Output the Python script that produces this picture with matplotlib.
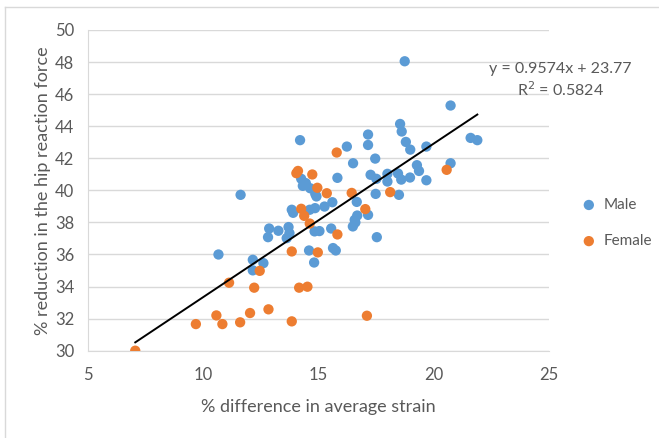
import matplotlib
matplotlib.use("Agg")
import matplotlib.pyplot as plt
from matplotlib.lines import Line2D

plt.rcParams['font.family'] = ['Lato', 'DejaVu Sans']

# values
male_x = [18.74, 20.73, 18.54, 18.61, 17.15, 14.20, 21.60, 21.89, 18.79, 17.15,
          16.23, 18.98, 19.68, 17.46, 16.50, 20.73, 19.27, 19.36, 17.26, 17.51,
          17.99, 18.45, 17.99, 18.59, 18.97, 19.68, 15.82, 14.25, 14.32, 14.64,
          11.62, 14.86, 18.49, 17.48, 14.91, 15.60, 15.26, 16.66, 13.84, 14.85,
          14.62, 17.15, 16.68, 16.57, 16.49, 12.86, 13.26, 13.70, 13.74, 12.81,
          13.62, 15.55, 14.83, 15.04, 17.53, 14.59, 15.63, 15.75, 10.66, 14.81,
          12.15, 12.61, 12.15, 14.45, 13.90, 16.60]
male_y = [48.05, 45.29, 44.14, 43.67, 43.48, 43.13, 43.27, 43.13, 43.02, 42.83,
          42.73, 42.54, 42.73, 41.98, 41.69, 41.69, 41.57, 41.21, 40.97, 40.72,
          41.03, 41.05, 40.55, 40.67, 40.80, 40.63, 40.78, 40.72, 40.28, 40.13,
          39.72, 39.78, 39.72, 39.78, 39.62, 39.26, 38.99, 39.28, 38.79, 38.89,
          38.79, 38.47, 38.43, 38.16, 37.75, 37.62, 37.48, 37.71, 37.33, 37.08,
          37.02, 37.62, 37.44, 37.46, 37.08, 36.25, 36.40, 36.25, 36.00, 35.50,
          35.67, 35.46, 35.01, 40.45, 38.60, 38.00]

female_x = [7.05, 9.68, 10.57, 10.83, 11.60, 12.03, 12.83, 13.84, 17.10, 11.12,
            12.21, 12.45, 14.16, 14.52, 13.84, 14.97, 15.82, 14.62, 14.38, 14.25,
            17.03, 15.36, 16.44, 18.11, 14.95, 14.04, 14.11, 14.73, 15.79, 20.56]
female_y = [30.00, 31.66, 32.20, 31.66, 31.77, 32.35, 32.58, 31.83, 32.18, 34.24,
            33.93, 34.98, 33.93, 33.99, 36.19, 36.13, 37.25, 37.93, 38.41, 38.85,
            38.83, 39.82, 39.84, 39.89, 40.16, 41.07, 41.21, 40.99, 42.36, 41.28]

slope = 0.9574
intercept = 23.77
r_squared = 0.5824

x_ticks = [5, 10, 15, 20, 25]
y_ticks = [30, 32, 34, 36, 38, 40, 42, 44, 46, 48, 50]

BLUE = '#5B9BD5'
ORANGE = '#ED7D31'
GREY_TXT = '#595959'

fig = plt.figure(figsize=(6.59, 4.38), dpi=100)
ax = fig.add_axes([88/659, 1-350.7/438, (549-88)/659, (350.7-30)/438])

ax.scatter(male_x, male_y, s=55, color=BLUE, edgecolors='none', label='Male', zorder=3)
ax.scatter(female_x, female_y, s=55, color=ORANGE, edgecolors='none', label='Female', zorder=3)

all_x = male_x + female_x
x0, x1 = min(all_x), max(all_x)
ax.plot([x0, x1], [slope*x0 + intercept, slope*x1 + intercept], color='black', lw=1.4, zorder=4)

ax.set_xlim(5, 25)
ax.set_ylim(30, 50)
ax.set_xticks(x_ticks)
ax.set_yticks(y_ticks)
ax.tick_params(length=0, labelsize=12, colors=GREY_TXT)
ax.tick_params(axis='x', pad=12)
ax.tick_params(axis='y', pad=10)
ax.grid(axis='y', color='#D9D9D9', lw=1)
ax.set_axisbelow(True)
for s in ['top', 'right']:
    ax.spines[s].set_visible(False)
for s in ['left', 'bottom']:
    ax.spines[s].set_color('#D9D9D9')

ax.set_xlabel('% difference in average strain', fontsize=13, color=GREY_TXT, labelpad=11)
ax.set_ylabel('% reduction in the hip reaction force', fontsize=13, color=GREY_TXT, labelpad=3)

ax.text(25.49, 47.57, f'y = {slope}x + {intercept}', ha='center', va='center',
        fontsize=11.5, color=GREY_TXT, clip_on=False)
ax.text(25.49, 46.26, f'R$^2$ = {r_squared}', ha='center', va='center',
        fontsize=11.5, color=GREY_TXT, clip_on=False)

leg = ax.legend(loc='center left', bbox_to_anchor=(1.04, 0.398), frameon=False,
                fontsize=11, handletextpad=0.0, labelspacing=1.45,
                markerscale=1.0, borderaxespad=0)
for t in leg.get_texts():
    t.set_color(GREY_TXT)

# light chart border (top and left edges visible)
fig.add_artist(Line2D([5/659, 1], [1-7/438, 1-7/438], color='#D9D9D9', lw=1))
fig.add_artist(Line2D([5/659, 5/659], [0, 1-7/438], color='#D9D9D9', lw=1))

fig.savefig('out.png', dpi=100)
